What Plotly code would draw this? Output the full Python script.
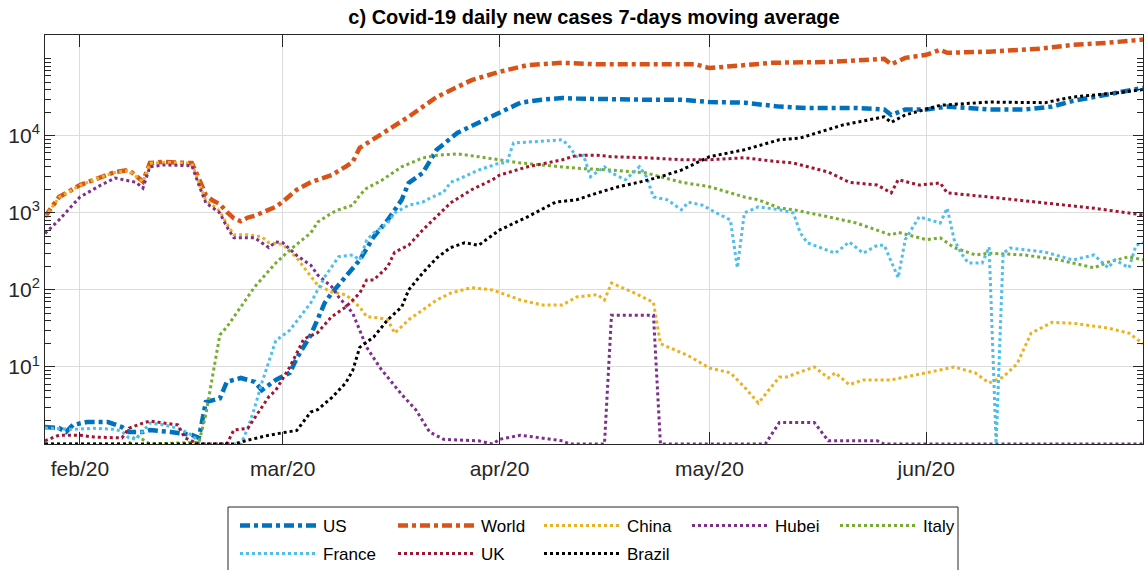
import pandas as pd
import plotly.graph_objects as go

# Day numbers below count from this date (day 0).
START = pd.Timestamp("2020-01-27")

# 7-day moving average of daily new cases, sampled at the turning points of each curve.
us_day = [0, 2, 3, 4, 6, 9, 11, 12, 14, 15, 18, 21, 22, 23, 25, 26, 28, 30, 31, 33,
          35, 36, 38, 40, 41, 45, 47, 49, 51, 52, 54, 56, 59, 62, 65, 68, 71, 74, 76, 81,
          86, 91, 95, 100, 105, 109, 116, 120, 121, 123, 126, 129, 135, 140, 144, 147, 152, 157]
us_val = [1.66, 1.61, 1.43, 1.77, 1.93, 1.93, 1.66, 1.43, 1.43, 1.52, 1.43, 1.31, 1.2, 3.5, 3.9, 6.4, 7.2, 6.4, 5.0, 6.8,
          8.4, 13, 26, 68, 91, 245, 490, 810, 1480, 2450, 3300, 6600, 11000, 15000, 20000, 27000, 29500, 31000, 30500, 29500,
          29500, 29500, 27500, 27000, 24000, 23000, 23000, 22000, 18700, 22000, 22000, 24000, 22000, 22000, 24000, 28500, 35000, 42000]

world_day = [0, 2, 5, 8, 10, 12, 14, 15, 17, 19, 21, 22, 23, 24, 25, 26, 27, 28, 29, 30,
             31, 32, 33, 34, 35, 36, 38, 41, 43, 44, 45, 48, 52, 56, 61, 65, 69, 74, 79, 86,
             93, 95, 98, 104, 112, 120, 121, 123, 126, 128, 129, 135, 142, 147, 152, 157]
world_val = [890, 1610, 2300, 2950, 3400, 3600, 2550, 4450, 4600, 4500, 4450, 2800, 1700, 1450, 1300, 1030, 850, 780, 870, 920,
             1000, 1080, 1200, 1400, 1700, 2000, 2500, 3100, 4000, 4600, 7000, 10500, 17700, 32000, 53000, 68000, 83000, 89000, 85000, 85000,
             85000, 76000, 80000, 89000, 91000, 100000, 85000, 103000, 113000, 131000, 120000, 124000, 135000, 152000, 162000, 178000]

china_day = [0, 2, 5, 8, 10, 12, 14, 15, 17, 19, 21, 22, 23, 24, 25, 26, 27, 29, 31, 32,
             34, 36, 39, 41, 43, 45, 46, 48, 49, 50, 52, 54, 56, 58, 61, 64, 68, 71, 74, 76,
             79, 80, 81, 84, 87, 88, 92, 95, 98, 100, 102, 105, 106, 110, 112, 113, 115, 117, 121, 126,
             130, 133, 135, 137, 139, 141, 144, 147, 152, 155, 157]
china_val = [880, 1590, 2280, 2920, 3360, 3560, 2520, 4400, 4550, 4450, 4400, 2500, 1450, 1250, 1050, 720, 520, 520, 490, 410,
             390, 260, 115, 94, 87, 60, 45, 43, 41, 27.5, 41, 55, 74, 91, 107, 100, 74, 64, 64, 81,
             87, 74, 123, 94, 69, 20, 14, 9.7, 8.4, 5.5, 3.4, 7.4, 7.4, 10, 7.2, 8.4, 5.9, 6.8, 6.8, 8.4,
             10, 8.4, 6.2, 7.4, 11, 27.5, 38, 37, 32, 27.5, 20]

hubei_day = [0, 2, 5, 8, 10, 13, 14, 15, 17, 21, 22, 23, 25, 26, 27, 30, 32, 33, 34, 36,
             38, 39, 41, 42, 44, 45, 46, 48, 51, 53, 55, 57, 62, 64, 65, 68, 71, 74, 75, 80,
             81, 87, 88, 103, 105, 110, 112, 119, 120, 157]
hubei_val = [540, 810, 1610, 2300, 2840, 2500, 2100, 3970, 4200, 4100, 2300, 1350, 1000, 660, 475, 475, 355, 420, 410, 280,
             210, 156, 110, 81, 50, 30, 18, 9.5, 4.4, 2.8, 1.43, 1.15, 1.1, 1.0, 1.15, 1.3, 1.2, 1.1, 1.0, 1.0,
             47, 47, 1.0, 1.0, 1.9, 1.9, 1.1, 1.1, 1.0, 1.0]

italy_day = [0, 12, 13, 14, 15, 22, 23, 24, 25, 26, 28, 30, 33, 35, 38, 39, 41, 42, 44, 45,
             46, 48, 51, 54, 56, 59, 62, 65, 68, 71, 74, 76, 81, 86, 91, 95, 100, 102, 105, 107,
             112, 116, 121, 122, 126, 128, 130, 131, 133, 135, 140, 145, 150, 152, 155, 157]
italy_val = [1.0, 1.0, 1.3, 1.15, 1.0, 1.05, 2.4, 8, 26, 33, 60, 110, 224, 330, 550, 760, 1000, 1100, 1260, 1700,
             2100, 2600, 3970, 5170, 5600, 5850, 5370, 4900, 4450, 4200, 3970, 3800, 3600, 3300, 2500, 2190, 1610, 1480, 1160, 1100,
             890, 740, 515, 560, 450, 475, 355, 330, 285, 300, 285, 245, 194, 230, 270, 245]

france_day = [0, 4, 7, 10, 11, 12, 13, 15, 17, 19, 21, 22, 23, 28, 29, 30, 31, 33, 35, 38,
              40, 42, 44, 45, 46, 47, 49, 50, 52, 54, 55, 57, 58, 59, 62, 65, 66, 67, 69, 74,
              75, 76, 77, 78, 80, 81, 83, 85, 86, 87, 89, 91, 92, 94, 96, 98, 99, 100, 102, 105,
              107, 108, 109, 113, 115, 117, 119, 120, 122, 123, 125, 128, 129, 130, 131, 132, 134, 135, 136, 137,
              138, 143, 147, 150, 152, 153, 155, 156, 157]
france_val = [1.61, 1.55, 1.6, 1.55, 1.45, 1.2, 1.15, 1.87, 1.77, 1.6, 1.31, 1.05, 1.0, 1.0, 1.6, 3.0, 6.2, 22, 30, 68,
              148, 270, 285, 245, 445, 550, 740, 1000, 1260, 1380, 1550, 1870, 2500, 2700, 3600, 4450, 4450, 8100, 8300, 8900,
              7200, 5370, 5600, 2950, 3970, 3300, 2700, 3970, 2950, 1610, 1480, 1100, 1380, 1260, 1000, 810, 194, 1000, 1200, 1100,
              1000, 550, 410, 300, 420, 300, 380, 380, 144, 450, 890, 740, 1150, 450, 300, 224, 224, 360, 1.0, 300,
              350, 310, 245, 285, 194, 245, 194, 380, 410]

uk_day = [0, 2, 5, 7, 11, 12, 14, 15, 17, 19, 20, 22, 26, 27, 29, 30, 32, 33, 35, 37,
          39, 41, 43, 45, 46, 47, 49, 50, 52, 54, 56, 58, 61, 64, 65, 69, 74, 76, 79, 81,
          86, 91, 95, 100, 105, 107, 112, 115, 119, 121, 122, 125, 128, 129, 135, 143, 150, 157]
uk_val = [1.1, 1.3, 1.3, 1.23, 1.2, 1.6, 1.87, 1.99, 1.87, 1.77, 1.2, 1.0, 1.0, 1.52, 1.6, 2.2, 4.1, 5.0, 10, 23,
          28, 45, 60, 91, 135, 135, 200, 310, 380, 600, 890, 1350, 2000, 2700, 3100, 3970, 4900, 5600, 5600, 5370,
          5200, 4900, 4900, 5200, 4600, 4450, 3400, 2500, 2300, 1820, 2700, 2300, 2450, 1820, 1610, 1350, 1150, 940]

brazil_day = [0, 27, 29, 32, 34, 36, 38, 39, 41, 43, 44, 45, 46, 47, 49, 51, 52, 54, 56, 58,
              60, 62, 65, 69, 73, 76, 79, 82, 85, 88, 91, 95, 100, 105, 108, 114, 120, 121, 123, 126,
              128, 135, 143, 145, 147, 153, 157]
brazil_val = [1.0, 1.0, 1.12, 1.3, 1.4, 1.5, 2.6, 2.8, 4.0, 6.2, 9, 18, 21, 24.5, 41, 60, 100, 166, 260, 355,
              410, 380, 600, 890, 1380, 1480, 1820, 2190, 2510, 2950, 3600, 5370, 6600, 8900, 9400, 13800, 17700, 15000, 18700, 22000,
              25000, 27500, 27000, 29500, 32000, 36000, 40000]

# Axis labels
month_ticks = ["2020-02-01", "2020-03-01", "2020-04-01", "2020-05-01", "2020-06-01"]
month_labels = ["feb/20", "mar/20", "apr/20", "may/20", "jun/20"]
decade_ticks = [10, 100, 1000, 10000]
decade_labels = ["10<sup>1</sup>", "10<sup>2</sup>", "10<sup>3</sup>", "10<sup>4</sup>"]
X_RANGE = ["2020-01-27", "2020-07-02"]


def to_dates(days):
    return [START + pd.Timedelta(days=d) for d in days]


DASHDOT = "10px,4px,4px,4px"
# name, days, values, colour, dash, width, legend row, legend entry width
series = [
    ("US", us_day, us_val, "#0072BD", DASHDOT, 4.5, "legend", 65),
    ("World", world_day, world_val, "#D95319", DASHDOT, 4.5, "legend", 53),
    ("China", china_day, china_val, "#EDB120", "dot", 3, "legend", 55),
    ("Hubei", hubei_day, hubei_val, "#7E2F8E", "dot", 3, "legend", 55),
    ("Italy", italy_day, italy_val, "#77AC30", "dot", 3, "legend", 40),
    ("France", france_day, france_val, "#4DBEEE", "dot", 3, "legend2", 65),
    ("UK", uk_day, uk_val, "#A2142F", "dot", 3, "legend2", 53),
    ("Brazil", brazil_day, brazil_val, "#000000", "dot", 3, "legend2", 50),
]

fig = go.Figure()
for name, days, vals, color, dash, width, leg, entry_w in series:
    fig.add_trace(go.Scatter(
        x=to_dates(days), y=vals, mode="lines", name=name,
        line=dict(color=color, dash=dash, width=width),
        legend=leg, legendwidth=entry_w,
    ))

minor_vals = [m * 10 ** k for k in range(0, 6) for m in range(2, 10) if m * 10 ** k < 210000]
minor_vals.append(100000)

AX = "#262626"
GRID = "#dcdcdc"
FONT = "Liberation Sans, Arial, Helvetica, sans-serif"

W, H = 1145, 570
L, R, T, B = 45, 2, 35, 126
PW, PH = W - L - R, H - T - B


def px_x(px):
    return (px - L) / PW


def px_y(py):
    return (H - B - py) / PH


legend_common = dict(
    orientation="h", xanchor="left", yanchor="middle", itemwidth=78,
    font=dict(family=FONT, size=17, color="#000000"),
    bgcolor="rgba(0,0,0,0)", borderwidth=0, traceorder="normal",
)

fig.update_layout(
    width=W, height=H,
    margin=dict(l=L, r=R, t=T, b=B, autoexpand=False),
    paper_bgcolor="white", plot_bgcolor="white",
    font=dict(family=FONT, color=AX),
    title=dict(
        text="c) Covid-19 daily new cases 7-days moving average",
        x=0.5, xref="paper", xanchor="center",
        y=1 - 17 / H, yref="container", yanchor="middle",
        font=dict(family=FONT, size=20, color="#000000", weight="bold"),
    ),
    xaxis=dict(
        type="date", range=X_RANGE,
        tickmode="array", tickvals=month_ticks, ticktext=month_labels,
        ticks="inside", ticklen=12, tickcolor=AX, tickwidth=1,
        ticklabelstandoff=6,
        showline=True, linecolor=AX, linewidth=1, mirror="allticks",
        showgrid=True, gridcolor=GRID, gridwidth=1, zeroline=False,
        tickfont=dict(family=FONT, size=21, color=AX),
    ),
    yaxis=dict(
        type="log", range=[0, 5.31],
        tickmode="array", tickvals=decade_ticks, ticktext=decade_labels,
        ticks="inside", ticklen=10, tickcolor=AX, tickwidth=1,
        minor=dict(tickmode="array", tickvals=minor_vals, ticks="inside",
                   ticklen=6, tickcolor=AX, showgrid=False),
        showline=True, linecolor=AX, linewidth=1, mirror="allticks",
        showgrid=True, gridcolor=GRID, gridwidth=1, zeroline=False,
        tickfont=dict(family=FONT, size=21, color=AX),
    ),
    legend=dict(x=px_x(235), y=px_y(526), **legend_common),
    legend2=dict(x=px_x(235), y=px_y(554), **legend_common),
    shapes=[dict(
        type="rect", xref="paper", yref="paper",
        x0=px_x(228), x1=px_x(958), y0=px_y(507), y1=px_y(576),
        line=dict(color=AX, width=1), fillcolor="rgba(0,0,0,0)",
    )],
)

fig.write_html("out.html")
